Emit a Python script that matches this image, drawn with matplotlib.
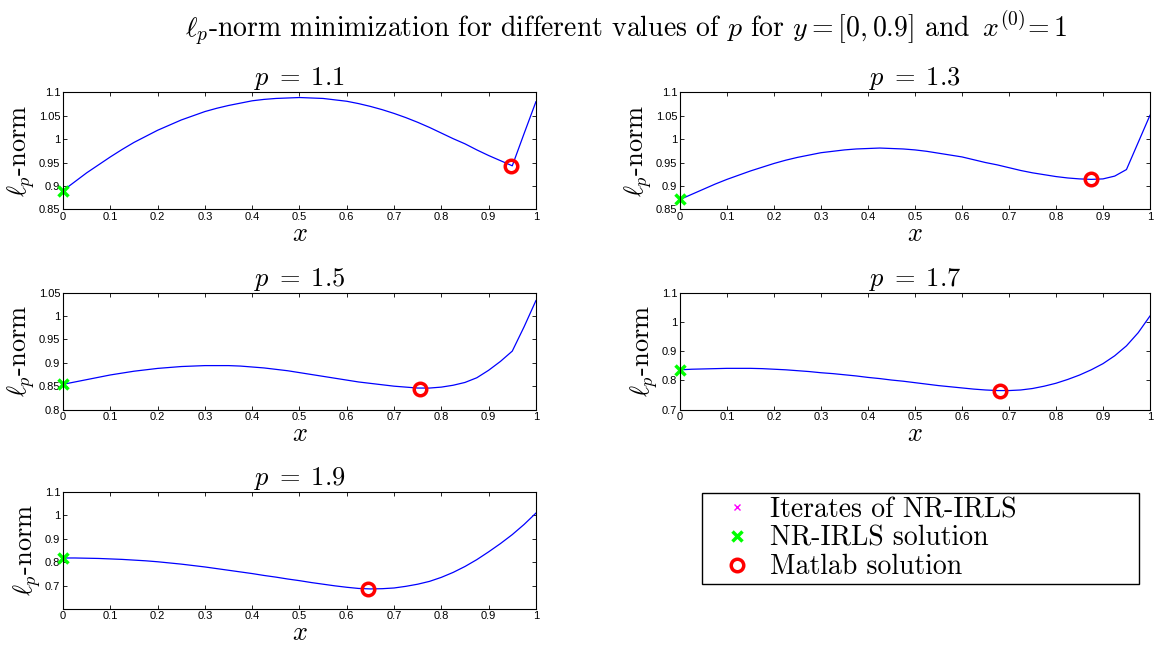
import matplotlib
matplotlib.use("Agg")
import matplotlib.pyplot as plt
from matplotlib.lines import Line2D

plt.rcParams.update({"mathtext.fontset": "cm", "font.size": 8})

SERIF = "cmr10"
SANS = "Liberation Sans"

x_grid = [0.000, 0.025, 0.050, 0.075, 0.100, 0.125, 0.150, 0.175, 0.200, 0.225,
          0.250, 0.275, 0.300, 0.325, 0.350, 0.375, 0.400, 0.425, 0.450, 0.475,
          0.500, 0.525, 0.550, 0.575, 0.600, 0.625, 0.650, 0.675, 0.700, 0.725,
          0.750, 0.775, 0.800, 0.825, 0.850, 0.875, 0.900, 0.925, 0.950, 0.975, 1.000]

p_values = [1.1, 1.3, 1.5, 1.7, 1.9]

norm_p11 = [0.890, 0.909, 0.928, 0.945, 0.962, 0.978, 0.993, 1.006, 1.019, 1.030,
            1.041, 1.050, 1.059, 1.066, 1.072, 1.077, 1.082, 1.085, 1.087, 1.088,
            1.089, 1.088, 1.087, 1.084, 1.081, 1.076, 1.070, 1.063, 1.055, 1.046,
            1.036, 1.025, 1.013, 1.001, 0.990, 0.977, 0.965, 0.954, 0.943, 1.012, 1.080]
norm_p13 = [0.871, 0.882, 0.893, 0.904, 0.914, 0.923, 0.932, 0.940, 0.948, 0.955,
            0.961, 0.966, 0.971, 0.974, 0.977, 0.979, 0.980, 0.981, 0.980, 0.979,
            0.977, 0.974, 0.970, 0.966, 0.962, 0.956, 0.950, 0.945, 0.939, 0.933,
            0.928, 0.924, 0.920, 0.917, 0.915, 0.914, 0.915, 0.921, 0.935, 0.993, 1.051]
norm_p15 = [0.854, 0.859, 0.864, 0.869, 0.874, 0.878, 0.882, 0.885, 0.888, 0.890,
            0.892, 0.893, 0.894, 0.894, 0.894, 0.893, 0.891, 0.889, 0.886, 0.883,
            0.879, 0.875, 0.871, 0.867, 0.863, 0.859, 0.856, 0.853, 0.850, 0.848,
            0.846, 0.846, 0.848, 0.852, 0.858, 0.868, 0.884, 0.903, 0.925, 0.977, 1.033]
norm_p17 = [0.836, 0.838, 0.839, 0.840, 0.841, 0.841, 0.841, 0.840, 0.838, 0.836,
            0.833, 0.830, 0.826, 0.823, 0.819, 0.815, 0.810, 0.806, 0.801, 0.797,
            0.792, 0.787, 0.782, 0.778, 0.774, 0.770, 0.767, 0.765, 0.765, 0.767,
            0.772, 0.780, 0.790, 0.803, 0.818, 0.836, 0.857, 0.884, 0.918, 0.963, 1.020]
norm_p19 = [0.819, 0.819, 0.818, 0.817, 0.815, 0.813, 0.810, 0.807, 0.803, 0.798,
            0.793, 0.787, 0.781, 0.774, 0.767, 0.760, 0.753, 0.745, 0.738, 0.730,
            0.723, 0.715, 0.708, 0.701, 0.695, 0.690, 0.688, 0.689, 0.692, 0.699,
            0.708, 0.720, 0.737, 0.758, 0.783, 0.812, 0.845, 0.880, 0.918, 0.961, 1.009]
norms = [norm_p11, norm_p13, norm_p15, norm_p17, norm_p19]

# final NR-IRLS iterate and fminsearch result per p
nr_x = [0.0, 0.0, 0.0, 0.0, 0.0]
nr_y = [0.890, 0.871, 0.854, 0.836, 0.819]
ml_x = [0.947, 0.874, 0.755, 0.681, 0.645]
ml_y = [0.943, 0.914, 0.845, 0.765, 0.688]

ylims = [(0.85, 1.1), (0.85, 1.1), (0.8, 1.05), (0.7, 1.1), (0.605, 1.1)]
yticks = [[0.85, 0.9, 0.95, 1, 1.05, 1.1], [0.85, 0.9, 0.95, 1, 1.05, 1.1],
          [0.8, 0.85, 0.9, 0.95, 1, 1.05], [0.7, 0.8, 0.9, 1, 1.1], [0.7, 0.8, 0.9, 1, 1.1]]
xticks = [0, 0.1, 0.2, 0.3, 0.4, 0.5, 0.6, 0.7, 0.8, 0.9, 1]

fig = plt.figure(figsize=(11.59, 6.46), dpi=100)

boxes = [(0.0544, 0.676, 0.408, 0.181), (0.5867, 0.676, 0.4055, 0.181),
         (0.0544, 0.366, 0.408, 0.181), (0.5867, 0.366, 0.4055, 0.181),
         (0.0544, 0.058, 0.408, 0.181)]

for i, p in enumerate(p_values):
    ax = fig.add_axes(boxes[i])
    ax.plot(x_grid, norms[i], color="blue", lw=0.9)
    ax.plot(nr_x[i], nr_y[i], "x", color="#00ff00", ms=7, mew=2.5, clip_on=False)
    ax.plot(ml_x[i], ml_y[i], "o", mfc="none", mec="red", ms=9, mew=2.5)
    ax.set_xlim(0, 1)
    ax.set_ylim(*ylims[i])
    ax.set_xticks(xticks)
    ax.set_xticklabels([f"{t:g}" for t in xticks])
    ax.set_yticks(yticks[i])
    ax.set_yticklabels([f"{t:g}" for t in yticks[i]])
    ax.tick_params(direction="in", top=True, right=True, length=3, width=0.6,
                   labelsize=8, pad=2)
    for lab in ax.get_xticklabels() + ax.get_yticklabels():
        lab.set_family(SANS)
    for s in ax.spines.values():
        s.set_linewidth(0.8)
    ax.set_title(rf"$p\;=\;{p}$", fontsize=19, pad=5)
    ax.set_xlabel(r"$x$", fontsize=19, labelpad=-1)
    ax.set_ylabel(r"$\ell_p$-norm", fontsize=19, family=SERIF, labelpad=1)

handles = [
    Line2D([], [], ls="none", marker="x", color="magenta", ms=4, mew=1),
    Line2D([], [], ls="none", marker="x", color="#00ff00", ms=7, mew=2.5),
    Line2D([], [], ls="none", marker="o", mfc="none", mec="red", ms=9, mew=2.5),
]
fig.legend(handles, ["Iterates of NR-IRLS", "NR-IRLS solution", "Matlab solution"],
           loc="upper left", bbox_to_anchor=(0.6057, 0.1033, 0.377, 0.134), mode="expand",
           borderaxespad=0, prop={"family": SERIF, "size": 20}, frameon=True,
           fancybox=False, edgecolor="black", framealpha=1, borderpad=0.15,
           labelspacing=0.08, handletextpad=0.1, handlelength=2.2)
fig.legends[0].get_frame().set_linewidth(1.0)

fig.text(0.54, 0.956,
         r"$\ell_p$-norm minimization for different values of $p$ for $y=[0,0.9]$ and $\,x^{(0)}\!=1$",
         ha="center", va="center", fontsize=20, family=SERIF)

fig.savefig("out.png", dpi=100)
